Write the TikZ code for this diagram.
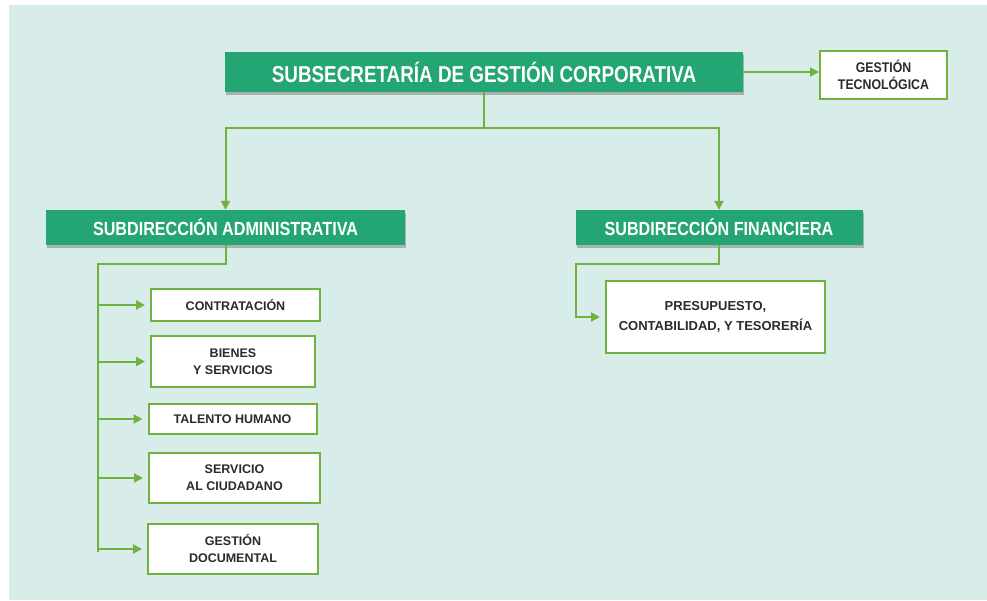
\documentclass[tikz,border=0pt]{standalone}
\usepackage{fontspec}
\setmainfont{Liberation Sans}
\newfontfamily\narrowfont{Liberation Sans}[FakeStretch=0.82]
\newfontfamily\subfont{Liberation Sans}[FakeStretch=0.85]
\newfontfamily\smallnarrow{Liberation Sans}[FakeStretch=0.88]
\usepackage{tikz}
\usetikzlibrary{arrows.meta,positioning,shadows}
\definecolor{canvasbg}{HTML}{D8EDEA}
\definecolor{headgreen}{HTML}{23A673}
\definecolor{linegreen}{HTML}{6FB240}
\definecolor{boxtext}{HTML}{2B2B2B}

\begin{document}
\begin{tikzpicture}[x=1pt,y=-1pt,
    headbox/.style={fill=headgreen, text=white, inner sep=0pt,
      drop shadow={shadow xshift=1pt, shadow yshift=-2.5pt, opacity=0.55}},
    unitbox/.style={draw=linegreen, line width=2pt, fill=white, text=boxtext,
      align=center, inner sep=0pt, font=\bfseries\fontsize{12.5}{17}\selectfont},
    conn/.style={linegreen, line width=2pt},
    arr/.style={conn, -{Triangle[length=9pt,width=9pt]}, shorten >=5pt}]
    % canvas
    \useasboundingbox (0,0) rectangle (987,600);
    \fill[canvasbg] (9,5) rectangle (987,600);

    % top level
    \node[headbox, minimum width=518pt, minimum height=40pt,
      font=\narrowfont\bfseries\fontsize{23}{26}\selectfont] (subsec) at (484,72)
      {SUBSECRETARÍA DE GESTIÓN CORPORATIVA};
    \node[unitbox, minimum width=127pt, minimum height=48pt,
      font=\smallnarrow\bfseries\fontsize{14}{17}\selectfont] (gestec) at (883.5,74.5)
      {GESTIÓN\\TECNOLÓGICA};

    % subdirecciones
    \node[headbox, minimum width=359pt, minimum height=35pt,
      font=\subfont\bfseries\fontsize{19}{22}\selectfont] (admin) at (225.5,227.5)
      {SUBDIRECCIÓN ADMINISTRATIVA};
    \node[headbox, minimum width=287pt, minimum height=35pt,
      font=\subfont\bfseries\fontsize{19}{22}\selectfont] (financ) at (719,227.5)
      {SUBDIRECCIÓN FINANCIERA};

    % units under administrativa
    \node[unitbox, minimum width=169pt, minimum height=32pt] (contrat) at (235.5,305) {CONTRATACIÓN};
    \node[unitbox, minimum width=164pt, minimum height=51pt] (bienes) at (233,361.5) {BIENES\\Y SERVICIOS};
    \node[unitbox, minimum width=168pt, minimum height=30pt] (talento) at (232.5,419) {TALENTO HUMANO};
    \node[unitbox, minimum width=171pt, minimum height=50pt] (servicio) at (234.5,478) {SERVICIO\\AL CIUDADANO};
    \node[unitbox, minimum width=170pt, minimum height=50pt] (gesdoc) at (233,549) {GESTIÓN\\DOCUMENTAL};

    % unit under financiera
    \node[unitbox, minimum width=219pt, minimum height=72pt,
      font=\bfseries\fontsize{13}{19.5}\selectfont] (presup) at (715.5,317)
      {PRESUPUESTO,\\CONTABILIDAD, Y TESORERÍA};

    % connectors
    \draw[arr, shorten >=0pt] (subsec.east) -- (subsec.east -| gestec.west);
    \coordinate (split) at (484,128);
    \draw[conn] (subsec.south) -- (split);
    \draw[arr, shorten >=0pt] (split) -| (admin.north);
    \draw[arr, shorten >=0pt] (split) -| (financ.north);

    \coordinate (adminbend) at (98,264);
    \coordinate (adminend) at (98,552);
    \draw[conn] (admin.south) |- (adminbend) -- (adminend);
    \foreach \unit in {contrat,bienes,talento,servicio,gesdoc}
      \draw[arr] (\unit.west -| adminbend) -- (\unit.west);

    \coordinate (finbend) at (576,264);
    \draw[arr] (financ.south) |- (finbend) |- (presup.west);
\end{tikzpicture}
\end{document}
